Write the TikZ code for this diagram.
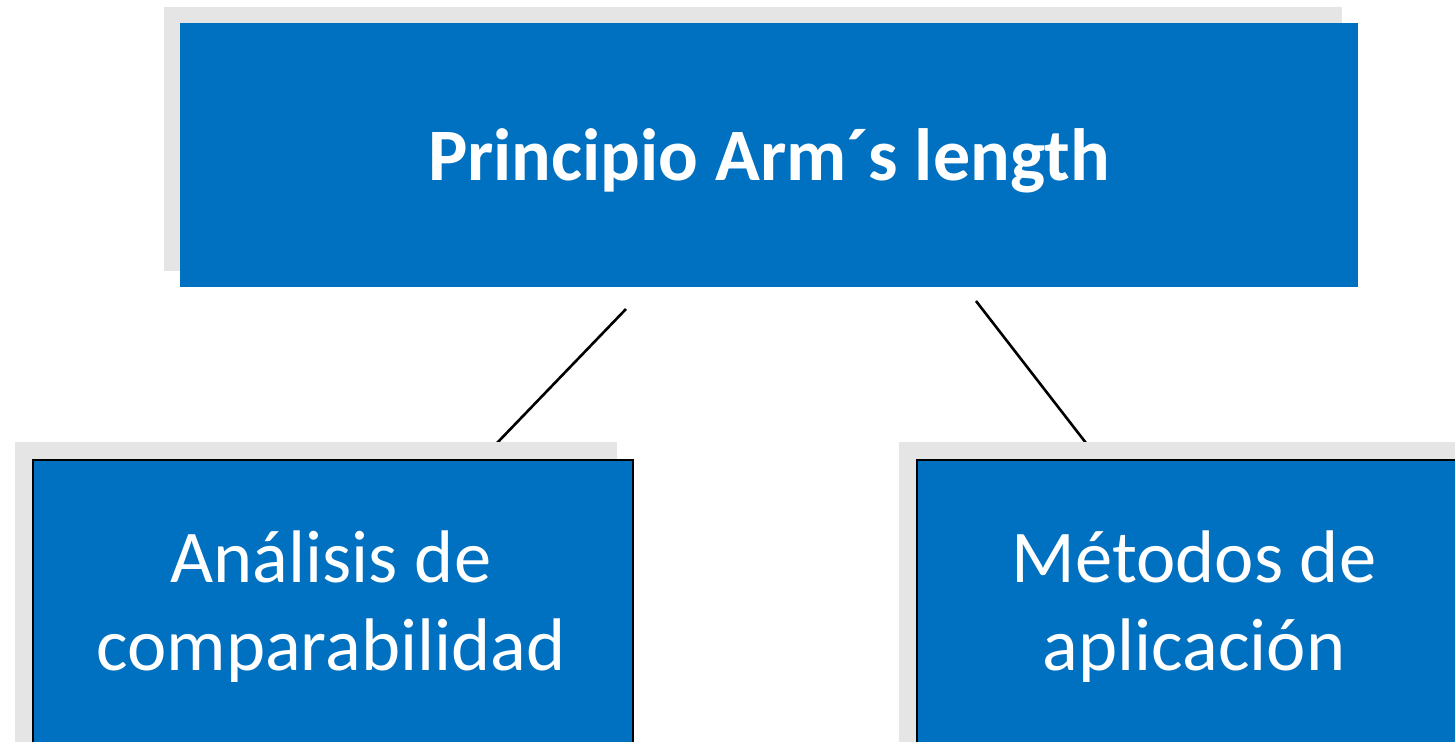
\documentclass[tikz,border=0pt]{standalone}
\usepackage{fontspec}
\setmainfont{Carlito}
\definecolor{boxblue}{HTML}{0070C0}
\definecolor{shadowgray}{HTML}{E5E5E5}
\begin{document}
\begin{tikzpicture}[x=1pt,y=-1pt,
  shadowbox/.style={fill=shadowgray, draw=none, inner sep=0pt, anchor=north west},
  bluebox/.style={fill=boxblue, inner sep=0pt, anchor=north west},
  edgebox/.style={fill=boxblue, draw=black, line width=2.2pt, inner sep=0pt, anchor=north west},
  toptext/.style={text=white, font=\fontsize{74}{88}\selectfont\bfseries, anchor=base, inner sep=0pt},
  subtext/.style={text=white, font=\fontsize{74.5}{88}\selectfont, anchor=base, inner sep=0pt},
  link/.style={draw=black, line width=2.6pt}]
\useasboundingbox (0,0) rectangle (1455,741);
\begin{scope}
\clip (0,0) rectangle (1455,741);
% top
\node[shadowbox, minimum width=1178pt, minimum height=264pt] (topshadow) at (164,7) {};
\node[bluebox, minimum width=1178pt, minimum height=264pt] (topbox) at (180,23) {};
\node[toptext] (toplabel) at (769,180) {Principio Arm´s length};
% connectors
\coordinate (la) at (626,309);
\coordinate (lb) at (497,443);
\coordinate (ra) at (976,301);
\coordinate (rb) at (1086,443);
\draw[link] (la) -- (lb);
\draw[link] (ra) -- (rb);
% bottom left
\node[shadowbox, minimum width=602pt, minimum height=400pt] (leftshadow) at (15,442) {};
\node[edgebox, minimum width=600pt, minimum height=400pt] (leftbox) at (32,459) {};
\node[subtext] (lefta) at (331,582) {Análisis de};
\node[subtext] (leftb) at (331,670) {comparabilidad};
% bottom right
\node[shadowbox, minimum width=556pt, minimum height=400pt] (rightshadow) at (899,442) {};
\node[edgebox, minimum width=556pt, minimum height=400pt] (rightbox) at (916,459) {};
\node[subtext] (righta) at (1194,582) {Métodos de};
\node[subtext] (rightb) at (1194,670) {aplicación};
\end{scope}
\end{tikzpicture}
\end{document}
